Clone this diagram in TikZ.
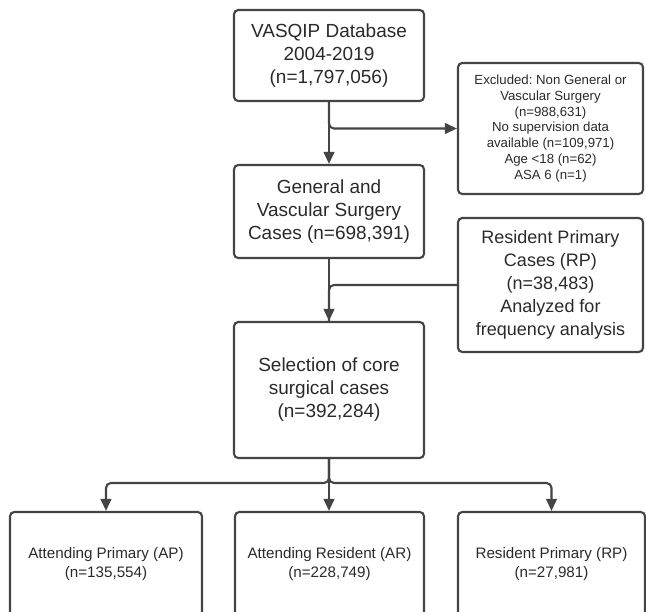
\documentclass[tikz,border=0pt]{standalone}
\usepackage{fontspec}
\setmainfont{Liberation Sans}
\usetikzlibrary{arrows.meta}
\frenchspacing
\definecolor{flowline}{HTML}{444444}
\definecolor{flowtext}{HTML}{2A2A2A}
\tikzset{
	flowbox/.style={draw=flowline, line width=1.5pt, rounded corners=3pt, align=center, text=flowtext, inner sep=0pt},
	bigbox/.style={flowbox, font=\fontsize{13.5}{16.3}\selectfont},
	sidebox/.style={flowbox, font=\fontsize{12.8}{16.3}\selectfont},
	smallbox/.style={flowbox, font=\fontsize{9.4}{11.3}\selectfont},
	groupbox/.style={flowbox, font=\fontsize{10.8}{13.1}\selectfont},
	link/.style={draw=flowline, line width=1.5pt, rounded corners=3.5pt},
	linkarrow/.style={link, -{Triangle[length=8.5pt,width=7.5pt]}}
}

\begin{document}
\begin{tikzpicture}[x=0.025cm, y=-0.025cm]
			%%%%% START %%%%%
			\useasboundingbox (0, 0) rectangle (646, 612);
			
			% main column
			\node[bigbox, minimum width=190*0.025cm, minimum height=91*0.025cm] (vasqip) at (329, 55.5) {VASQIP Database\\2004-2019\\(n=1,797,056)};
			\node[bigbox, minimum width=190*0.025cm, minimum height=93*0.025cm] (general) at (329, 211.5) {General and\\Vascular Surgery\\Cases (n=698,391)};
			\node[bigbox, minimum width=190*0.025cm, minimum height=136*0.025cm] (core) at (329, 390) {Selection of core\\surgical cases\\(n=392,284)};
			
			% side boxes
			\node[smallbox, minimum width=185*0.025cm, minimum height=131*0.025cm] (excluded) at (550.5, 128.5) {Excluded: Non General or\\Vascular Surgery\\(n=988,631)\\No supervision data\\available (n=109,971)\\Age <18 (n=62)\\ASA 6 (n=1)};
			\node[sidebox, minimum width=185*0.025cm, minimum height=134*0.025cm] (rpfreq) at (550.5, 285) {Resident Primary\\Cases (RP)\\(n=38,483)\\Analyzed for\\frequency analysis};
			
			% bottom row
			\node[groupbox, minimum width=192*0.025cm, minimum height=104*0.025cm] (ap) at (106, 564) {Attending Primary (AP)\\(n=135,554)};
			\node[groupbox, minimum width=189*0.025cm, minimum height=104*0.025cm] (ar) at (329.5, 564) {Attending Resident (AR)\\(n=228,749)};
			\node[groupbox, minimum width=187*0.025cm, minimum height=104*0.025cm] (rp) at (551.5, 564) {Resident Primary (RP)\\(n=27,981)};
			
			\coordinate (split) at (329, 483);
			
			% connectors
			\draw[linkarrow] (vasqip) -- (general);
			\draw[linkarrow] (vasqip.south) -- (vasqip.south |- excluded.west) -- (excluded.west);
			\draw[linkarrow] (general) -- (core);
			\draw[link] (rpfreq.west) -- (rpfreq.west -| general.south) -- (core.north);
			\draw[linkarrow] (core.south) -- (split) -- (split -| ap.north) -- (ap.north);
			\draw[linkarrow] (core.south) -- (split) -- (split -| rp.north) -- (rp.north);
			\draw[linkarrow] (core.south) -- (core.south |- ar.north);
			%%%%% END %%%%%
\end{tikzpicture}
\end{document}
